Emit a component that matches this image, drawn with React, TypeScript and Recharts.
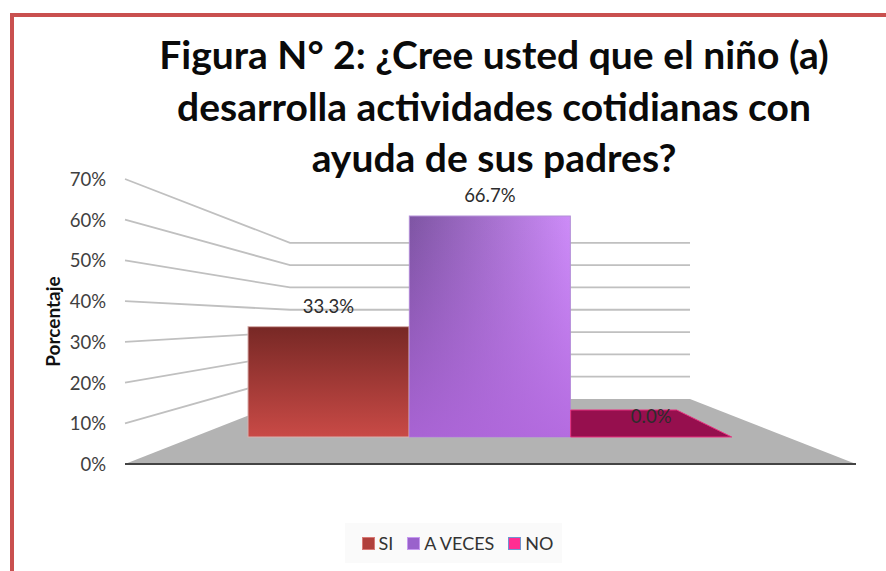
import { Bar, BarChart, CartesianGrid, Customized, LabelList, Legend, XAxis, YAxis } from "recharts"

const categories = ["SI", "A VECES", "NO"]
const values = [33.3, 66.7, 0]
const yTicks = [0, 10, 20, 30, 40, 50, 60, 70]

const barFills = ["url(#siFill)", "url(#vecesFill)", "#960f4e"]
const barOverlays = ["none", "url(#vecesShade)", "none"]
const barStrokes = ["#d8b0ae", "#b28fd6", "#e8307f"]
const swatchFills = ["#b0403c", "#9a62cc", "#ff2d92"]
const swatchStrokes = ["#d87a76", "#c79af0", "#6f94d0"]

const chartData = categories.map((name, i) => ({ name, value: values[i], idx: i }))

// floor and back wall of the fake 3D box
const left = 125
const right = 856
const base = 464
const backLeft = 290
const backRight = 690
const backBase = 399
const wallRatio = 0.548 // back wall height vs front axis height

function formatPct(v: number) {
  return v.toFixed(1) + "%"
}

function AxisTick({ x, y, payload }: any) {
  return (
    <text x={x} y={y} dy={7} textAnchor="end" fontSize={18.5} fill="#404040" fontFamily="Lato">
      {payload.value}%
    </text>
  )
}

// each horizontal grid line folds back from the front axis to the back wall
function WallLine({ y1 }: any) {
  if (y1 > base - 1) return null
  const wy = backBase - (base - y1) * wallRatio
  return (
    <polyline
      points={`${left},${y1} ${backLeft},${wy} ${backRight},${wy}`}
      fill="none"
      stroke="#c0c0c0"
      strokeWidth={1.8}
    />
  )
}

function Floor() {
  return (
    <polygon
      points={`${left},${base} ${backLeft},${backBase} ${backRight},${backBase} ${right},${base}`}
      fill="#b3b3b3"
    />
  )
}

function Bar3D({ x, y, width, height, payload }: any) {
  const i = payload.idx
  if (height < 1) {
    // zero value: only the top face shows
    const depth = 27
    return (
      <polygon
        points={`${x},${y} ${x + width},${y} ${x + width - 55},${y - depth} ${x},${y - depth}`}
        fill={barFills[i]}
        stroke={barStrokes[i]}
        strokeWidth={1}
      />
    )
  }
  return (
    <g>
      <rect x={x} y={y} width={width} height={height} fill={barFills[i]} stroke={barStrokes[i]} strokeWidth={1} />
      <rect x={x} y={y} width={width} height={height} fill={barOverlays[i]} />
    </g>
  )
}

function LegendBox() {
  return (
    <div
      style={{
        width: 217,
        height: 40,
        boxSizing: "border-box",
        paddingLeft: 8,
        background: "#fafafa",
        display: "flex",
        alignItems: "center",
        justifyContent: "center",
        fontFamily: "Lato",
        fontSize: 18,
        color: "#333",
      }}
    >
      {categories.map((c, i) => (
        <span key={c} style={{ display: "flex", alignItems: "center", marginLeft: i ? 14 : 0 }}>
          <span
            style={{
              width: 11,
              height: 11,
              background: swatchFills[i],
              border: `1px solid ${swatchStrokes[i]}`,
              marginRight: 4,
            }}
          />
          {c}
        </span>
      ))}
    </div>
  )
}

const titleLines = ["Figura N° 2: ¿Cree usted que el niño (a)", "desarrolla actividades cotidianas con", "ayuda de sus padres?"]

export default function App() {
  return (
    <div style={{ position: "absolute", left: 0, top: 0, width: 886, height: 571, overflow: "hidden", background: "#fff" }}>
      <div
        style={{
          position: "absolute",
          left: 10,
          top: 13,
          width: 900,
          height: 600,
          borderLeft: "4px solid #c9504f",
          borderTop: "4px solid #c9504f",
        }}
      />
      <BarChart
        width={886}
        height={571}
        data={chartData}
        barCategoryGap={0}
        margin={{ top: 179, right: 30, bottom: 66, left: 45 }}
        style={{ position: "absolute", left: 0, top: 0 }}
      >
        <defs>
          <linearGradient id="siFill" x1="0" y1="0" x2="0" y2="1">
            <stop offset="0" stopColor="#772825" />
            <stop offset="1" stopColor="#c94a46" />
          </linearGradient>
          <linearGradient id="vecesFill" x1="0" y1="0" x2="1" y2="0">
            <stop offset="0" stopColor="#7e55a3" />
            <stop offset="1" stopColor="#cd8cf8" />
          </linearGradient>
          <linearGradient id="vecesShade" x1="0" y1="0" x2="0" y2="1">
            <stop offset="0" stopColor="#b066dc" stopOpacity="0" />
            <stop offset="1" stopColor="#b066dc" stopOpacity="0.85" />
          </linearGradient>
        </defs>
        <CartesianGrid vertical={false} horizontal={WallLine} />
        <YAxis
          width={80}
          domain={[0, 70]}
          ticks={yTicks}
          allowDataOverflow
          axisLine={false}
          tickLine={false}
          tickMargin={13}
          tick={AxisTick}
          interval={0}
          label={{
            value: "Porcentaje",
            angle: -90,
            position: "insideLeft",
            offset: 8,
            style: { fontFamily: "Lato", fontWeight: 700, fontSize: 19, fill: "#111", textAnchor: "middle" },
          }}
        />
        <YAxis yAxisId="bars" hide domain={[-8.15, 77.87]} allowDataOverflow />
        <Customized component={<Floor />} />
        <XAxis
          dataKey="name"
          height={1}
          tick={false}
          tickLine={false}
          padding={{ left: 123, right: 124 }}
          axisLine={{ stroke: "#444", strokeWidth: 2 }}
        />
        <Bar dataKey="value" yAxisId="bars" shape={<Bar3D />} isAnimationActive={false}>
          <LabelList
            dataKey="value"
            position="top"
            offset={14}
            formatter={formatPct}
            style={{ fontFamily: "Lato", fontSize: 18.5, fill: "#2c2c2c" }}
          />
        </Bar>
        <Legend content={<LegendBox />} wrapperStyle={{ left: 345, top: 523, bottom: "auto", width: 217, height: 40 }} />
      </BarChart>
      <div
        style={{
          position: "absolute",
          left: 104,
          top: 29,
          width: 780,
          textAlign: "center",
          fontFamily: "Lato",
          fontWeight: 700,
          fontSize: 39,
          lineHeight: "51.5px",
          color: "#0a0a0a",
        }}
      >
        {titleLines.map((l) => (
          <div key={l}>{l}</div>
        ))}
      </div>
    </div>
  )
}
